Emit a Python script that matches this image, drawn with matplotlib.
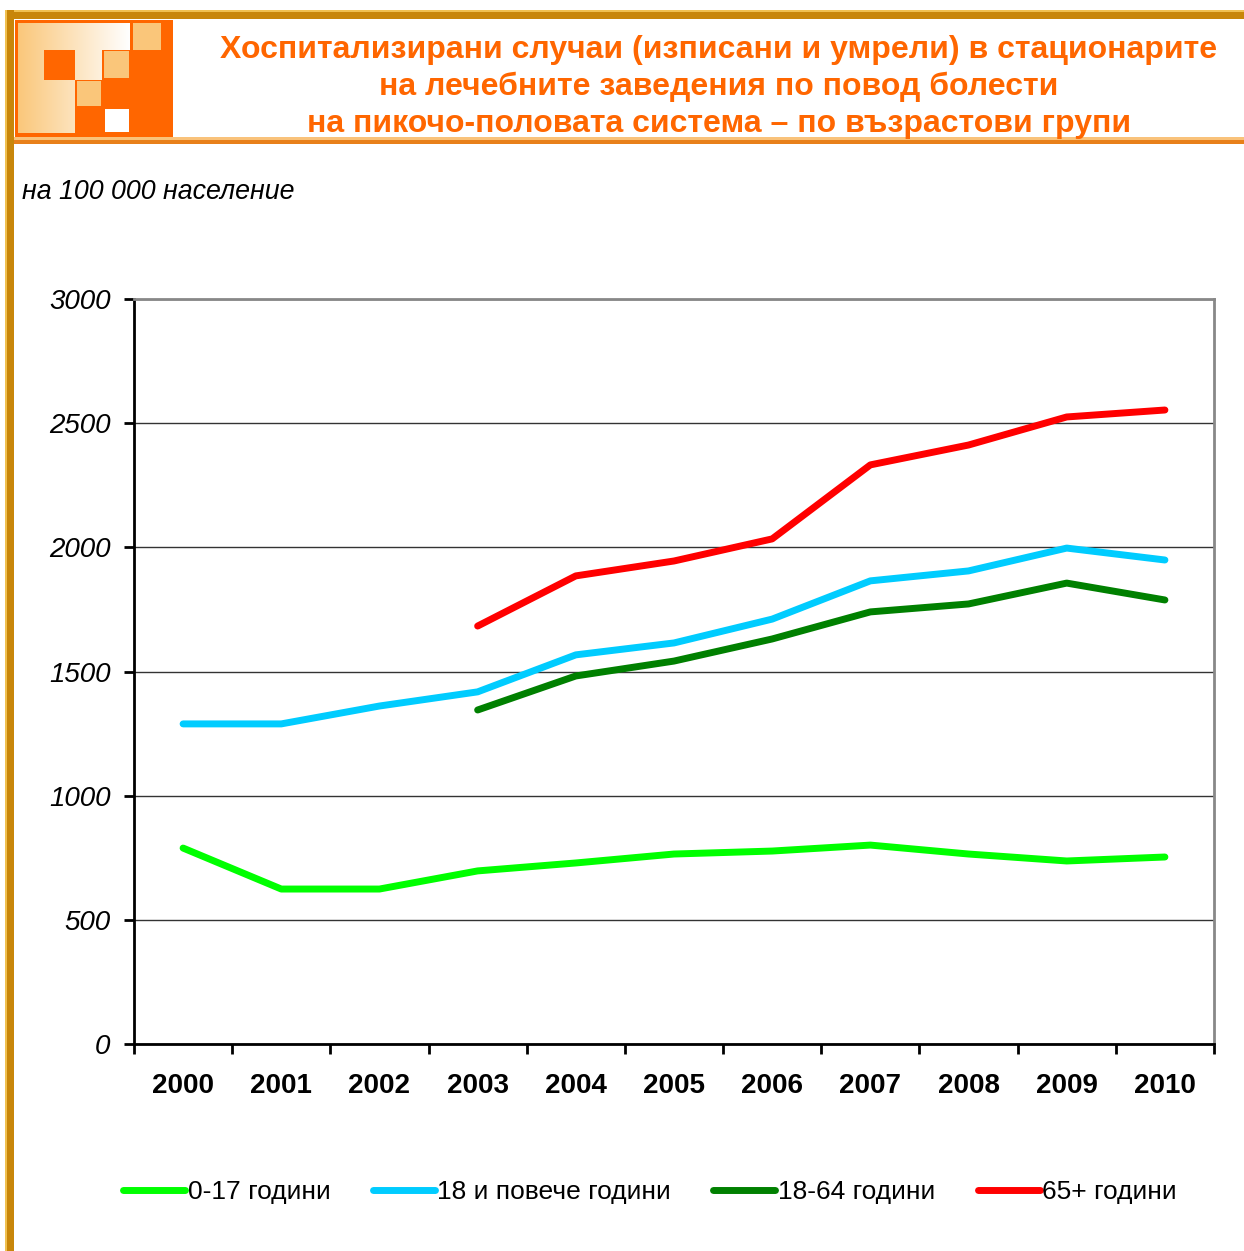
import numpy as np
import matplotlib.pyplot as plt
from matplotlib.patches import Rectangle

# Données (pour 100 000 habitants)
annees = ["2000", "2001", "2002", "2003", "2004", "2005", "2006", "2007", "2008", "2009", "2010"]
v_0_17 = [789, 624, 624, 697, 729, 765, 777, 801, 765, 737, 753]
v_18_plus = [1289, 1289, 1361, 1418, 1567, 1615, 1711, 1865, 1905, 1997, 1949]
v_18_64 = [np.nan, np.nan, np.nan, 1345, 1482, 1542, 1631, 1740, 1772, 1856, 1788]
v_65_plus = [np.nan, np.nan, np.nan, 1683, 1885, 1945, 2034, 2332, 2412, 2525, 2553]

series = [
    ("0-17 години", v_0_17, "#00FF00"),
    ("18 и повече години", v_18_plus, "#00CCFF"),
    ("18-64 години", v_18_64, "#008000"),
    ("65+ години", v_65_plus, "#FF0000"),
]

titre = ("Хоспитализирани случаи (изписани и умрели) в стационарите\n"
         "на лечебните заведения по повод болести\n"
         "на пикочо-половата система – по възрастови групи")

plt.rcParams['font.family'] = ['Liberation Sans', 'DejaVu Sans']

W, H = 1244, 1251
fig = plt.figure(figsize=(W / 100, H / 100), dpi=100)

# Calque de décor en coordonnées pixels
deco = fig.add_axes([0, 0, 1, 1])
deco.set_xlim(0, W)
deco.set_ylim(H, 0)
deco.axis("off")

# Cadre doré
deco.add_patch(Rectangle((5, 10), W - 5, 9, color="#C8860A", lw=0))
deco.add_patch(Rectangle((5, 10), W - 5, 2, color="#F0C050", lw=0))
deco.add_patch(Rectangle((5, 10), 9, H - 10, color="#C8860A", lw=0))
deco.add_patch(Rectangle((5, 10), 2, H - 10, color="#F0C050", lw=0))

# Ligne sous l'en-tête
deco.add_patch(Rectangle((14, 137), W - 14, 3, color="#F9C27A", lw=0))
deco.add_patch(Rectangle((14, 140), W - 14, 4, color="#E8801A", lw=0))

# Logo
deco.add_patch(Rectangle((15, 20), 158, 117, color="#FF6600", lw=0))
grad = np.linspace(0, 1, 200)
c0 = np.array([0.98, 0.78, 0.48])
c1 = np.array([1.0, 1.0, 1.0])
img = (c0[None, :] * (1 - grad[:, None]) + c1[None, :] * grad[:, None])[None, :, :]
deco.imshow(img, extent=(18, 130, 133, 23), aspect="auto", zorder=1)
deco.add_patch(Rectangle((44, 50), 31, 30, color="#FF6600", lw=0, zorder=2))
deco.add_patch(Rectangle((102, 50), 28, 30, color="#FF6600", lw=0, zorder=2))
deco.add_patch(Rectangle((104, 51), 25, 27, color="#FAC67A", lw=0, zorder=3))
deco.add_patch(Rectangle((75, 80), 27, 27, color="#FF6600", lw=0, zorder=2))
deco.add_patch(Rectangle((77, 81), 24, 25, color="#FAC67A", lw=0, zorder=3))
deco.add_patch(Rectangle((102, 80), 28, 27, color="#FF6600", lw=0, zorder=2))
deco.add_patch(Rectangle((75, 107), 55, 26, color="#FF6600", lw=0, zorder=2))
deco.add_patch(Rectangle((105, 109), 24, 23, color="white", lw=0, zorder=3))
deco.add_patch(Rectangle((133, 23), 28, 27, color="#FAC67A", lw=0, zorder=3))

# Titre et sous-titre
deco.text(719, 87, titre, color="#FF6600", fontsize=23, fontweight="bold",
          ha="center", va="center", linespacing=1.3)
deco.text(22, 192, "на 100 000 население", fontsize=19.3, style="italic",
          ha="left", va="center")

# Graphique
ax = fig.add_axes([134 / W, 1 - 1044 / H, 1080 / W, 745 / H])
x = np.arange(len(annees))
for nom, vals, coul in series:
    ax.plot(x, vals, color=coul, lw=5, solid_capstyle="round",
            solid_joinstyle="round", label=nom, zorder=3)

ax.set_xlim(-0.5, len(annees) - 0.5)
ax.set_ylim(0, 3000)
ax.set_yticks(range(0, 3001, 500))
ax.set_yticklabels([str(v) for v in range(0, 3001, 500)], fontsize=20, style="italic")
ax.yaxis.grid(True, color="#333333", lw=1)
ax.set_axisbelow(True)

ax.set_xticks(x)
ax.set_xticklabels(annees, fontsize=20, fontweight="bold")
ax.tick_params(axis="x", which="major", length=0, pad=21)
ax.set_xticks(np.arange(-0.5, len(annees)), minor=True)
ax.tick_params(axis="x", which="minor", length=7, width=2, direction="out")
ax.tick_params(axis="y", length=7, width=2, direction="out", pad=10)

ax.spines["left"].set_linewidth(2)
ax.spines["bottom"].set_linewidth(2)
ax.spines["right"].set_color("#888888")
ax.spines["right"].set_linewidth(2)
ax.spines["top"].set_color("#888888")
ax.spines["top"].set_linewidth(2)

fig.legend(loc="center", bbox_to_anchor=(650 / W, 1 - 1192 / H), ncol=4,
           frameon=False, fontsize=19, handlelength=2.35, handletextpad=0.1,
           columnspacing=1.6)

fig.savefig("out.png", dpi=100)
